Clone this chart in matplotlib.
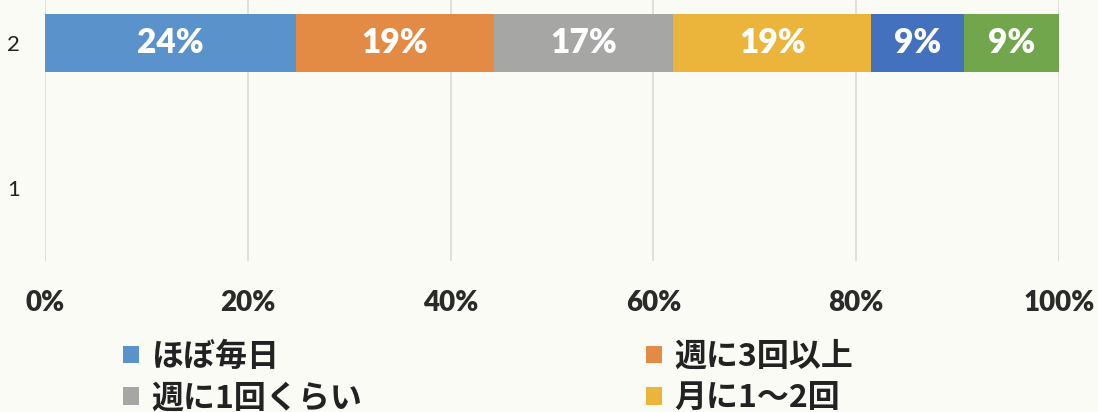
import matplotlib.pyplot as plt
import numpy as np

# ***** DATA *****
categories = ["1", "2"]
series_names = ["ほぼ毎日", "週に3回以上", "週に1回くらい", "月に1～2回", "series5", "series6"]
# share (%) per category
s1 = [0, 24.75]
s2 = [0, 19.55]
s3 = [0, 17.65]
s4 = [0, 19.55]
s5 = [0, 9.15]
s6 = [0, 9.35]
bar_labels = ["24%", "19%", "17%", "19%", "9%", "9%"]
x_ticks = [0, 20, 40, 60, 80, 100]
x_tick_labels = ["0%", "20%", "40%", "60%", "80%", "100%"]

colors = ["#5A93CC", "#E38A45", "#A6A6A4", "#EBB53C", "#4471BD", "#71A64C"]
bg = "#FBFBF6"

plt.rcParams['font.family'] = ['Lato', 'Noto Sans CJK JP', 'DejaVu Sans']

# ***** GRAPHING *****
fig = plt.figure(figsize=(10.98, 4.12), dpi=100, facecolor=bg)
ax = fig.add_axes([45 / 1098, (412 - 261) / 412, 1014 / 1098, 291 / 412])
ax.set_facecolor(bg)

all_series = [s1, s2, s3, s4, s5, s6]
y = np.arange(len(categories))
left = np.zeros(len(categories))
handles = []
for i, vals in enumerate(all_series):
    vals = np.array(vals, dtype=float)
    bars = ax.barh(y, vals, left=left, height=0.4, color=colors[i], label=series_names[i], zorder=3)
    handles.append(bars)
    # data label only on the filled row
    for j in range(len(categories)):
        if vals[j] > 0:
            ax.text(left[j] + vals[j] / 2, y[j], bar_labels[i], ha='center', va='center',
                    color='white', fontsize=24, fontweight='heavy', zorder=4)
    left = left + vals

ax.set_xlim(0, 100)
ax.set_ylim(-0.5, 1.5)
ax.set_yticks(y)
ax.set_yticklabels(categories, fontsize=16, color='#222222')
ax.set_xticks(x_ticks)
ax.set_xticklabels(x_tick_labels, fontsize=20, fontweight='heavy', color='#2A2A2A')
ax.tick_params(axis='x', length=0, pad=21)
ax.tick_params(axis='y', length=0, pad=18)
ax.grid(axis='x', color='#DCDCDA', linewidth=1.3, zorder=0)
for sp in ax.spines.values():
    sp.set_visible(False)

# legend - only the first four entries are visible in the picture, row-wise order
order = [0, 2, 1, 3]
leg = fig.legend([handles[k] for k in order], [series_names[k] for k in order],
                 loc='upper left', bbox_to_anchor=(94 / 1098, (412 - 312) / 412),
                 ncol=2, frameon=False, handlelength=0.5, handleheight=0.45,
                 handletextpad=0.38, columnspacing=8.9, labelspacing=0.3,
                 prop={'family': ['Noto Sans CJK JP'], 'weight': 'bold', 'size': 23})
for t in leg.get_texts():
    t.set_color('#222222')

fig.savefig('out.png', dpi=100, facecolor=bg)
